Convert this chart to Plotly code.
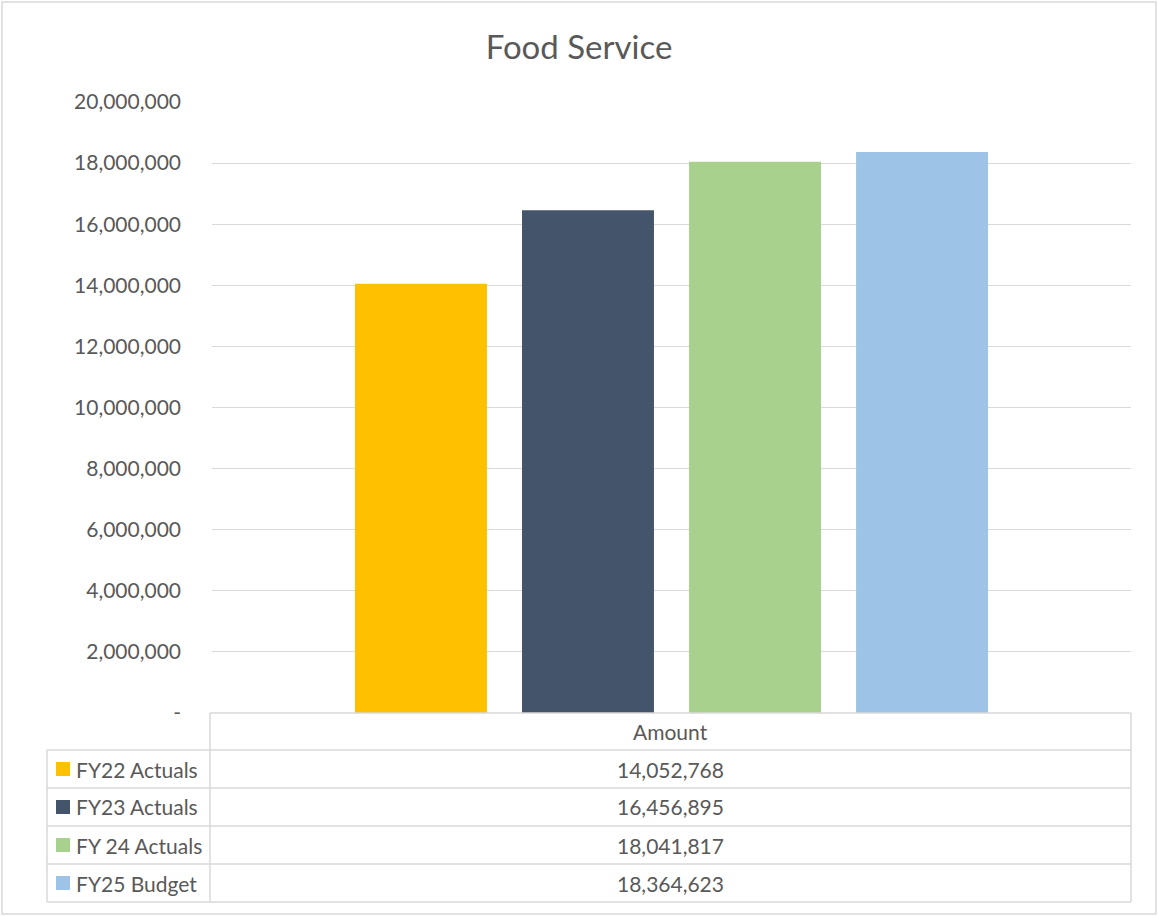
import plotly.graph_objects as go

title = "Food Service"
category = ["Amount"]
series_names = ["FY22 Actuals", "FY23 Actuals", "FY 24 Actuals", "FY25 Budget"]
series_values = [14052768, 16456895, 18041817, 18364623]
series_colors = ["#FFC000", "#44546A", "#A9D18E", "#9DC3E6"]
tick_vals = [0, 2000000, 4000000, 6000000, 8000000, 10000000,
             12000000, 14000000, 16000000, 18000000, 20000000]
tick_text = ["-", "2,000,000", "4,000,000", "6,000,000", "8,000,000", "10,000,000",
             "12,000,000", "14,000,000", "16,000,000", "18,000,000", "20,000,000"]

W, H = 1158, 916
L, R, T, B = 212, 1131, 102, 713
FONT = "Lato, 'Open Sans', sans-serif"
TXT = "#595959"
GRID = "#D9D9D9"
FS = 21


def px(x):
    return (x - L) / (R - L)


def py(y):
    return (B - y) / (B - T)


fig = go.Figure()
for name, val, col in zip(series_names, series_values, series_colors):
    fig.add_trace(go.Bar(x=category, y=[val], name=name, marker=dict(color=col, line=dict(width=0)),
                         showlegend=False))

shapes = []
annotations = []

# outer chart border
shapes.append(dict(type="rect", xref="paper", yref="paper",
                   x0=px(2), x1=px(1156), y0=py(914), y1=py(2),
                   line=dict(color=GRID, width=1.5)))

# data table
row_edges = [713, 750, 788, 826, 864, 902]
tbl_left, tbl_div, tbl_right = 47, 210, 1131
line_style = dict(color=GRID, width=1.5)
shapes.append(dict(type="line", xref="paper", yref="paper", x0=px(tbl_div), x1=px(tbl_right),
                   y0=py(row_edges[0]), y1=py(row_edges[0]), line=line_style))
for y in row_edges[1:]:
    shapes.append(dict(type="line", xref="paper", yref="paper", x0=px(tbl_left), x1=px(tbl_right),
                       y0=py(y), y1=py(y), line=line_style))
shapes.append(dict(type="line", xref="paper", yref="paper", x0=px(tbl_left), x1=px(tbl_left),
                   y0=py(row_edges[1]), y1=py(row_edges[-1]), line=line_style))
shapes.append(dict(type="line", xref="paper", yref="paper", x0=px(tbl_div), x1=px(tbl_div),
                   y0=py(row_edges[0]), y1=py(row_edges[-1]), line=line_style))
shapes.append(dict(type="line", xref="paper", yref="paper", x0=px(tbl_right), x1=px(tbl_right),
                   y0=py(row_edges[0]), y1=py(row_edges[-1]), line=line_style))

val_cx = (tbl_div + tbl_right) / 2
annotations.append(dict(text=category[0], xref="paper", yref="paper",
                        x=px(val_cx), y=py((row_edges[0] + row_edges[1]) / 2),
                        xanchor="center", yanchor="middle", showarrow=False,
                        font=dict(family=FONT, size=FS, color=TXT)))
for i, (name, val, col) in enumerate(zip(series_names, series_values, series_colors)):
    top, bot = row_edges[i + 1], row_edges[i + 2]
    cy = (top + bot) / 2
    shapes.append(dict(type="rect", xref="paper", yref="paper",
                       x0=px(56), x1=px(70), y0=py(cy + 7), y1=py(cy - 7),
                       fillcolor=col, line=dict(width=0)))
    annotations.append(dict(text=name, xref="paper", yref="paper", x=px(74), y=py(cy),
                            xanchor="left", yanchor="middle", showarrow=False,
                            font=dict(family=FONT, size=FS, color=TXT)))
    annotations.append(dict(text=f"{val:,}", xref="paper", yref="paper", x=px(val_cx), y=py(cy),
                            xanchor="center", yanchor="middle", showarrow=False,
                            font=dict(family=FONT, size=FS, color=TXT)))

fig.update_layout(
    width=W, height=H,
    margin=dict(l=L, r=W - R, t=T, b=H - B, pad=0),
    paper_bgcolor="white", plot_bgcolor="white",
    title=dict(text=title, x=0.5, xanchor="center", y=1 - 47 / H, yanchor="middle",
               font=dict(family=FONT, size=33, color=TXT)),
    barmode="group", bargap=0.273, bargroupgap=0.21,
    xaxis=dict(showticklabels=False, showgrid=False, zeroline=False, showline=False, fixedrange=True),
    yaxis=dict(range=[0, 20000000], tickvals=tick_vals, ticktext=tick_text,
               showgrid=True, gridcolor=GRID, gridwidth=1, zeroline=False, showline=False,
               ticks="", ticklabelstandoff=30,
               tickfont=dict(family=FONT, size=FS, color=TXT)),
    shapes=shapes, annotations=annotations,
    showlegend=False,
)

fig.write_html("out.html", config={"displayModeBar": False},
               post_script="document.body.style.margin='0';document.body.style.overflow='hidden';")
